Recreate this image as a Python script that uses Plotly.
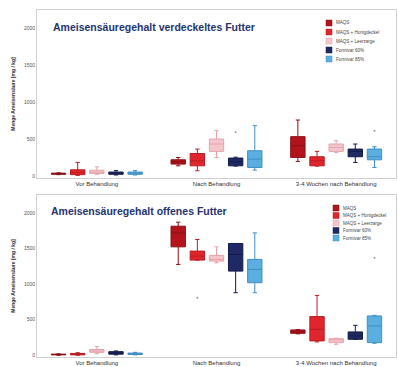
import plotly.graph_objects as go
from plotly.subplots import make_subplots

categories = ["Vor Behandlung", "Nach Behandlung", "3-4 Wochen nach Behandlung"]
series_names = ["MAQS", "MAQS + Honigdeckel", "MAQS + Leerzarge", "Formivar 60%", "Formivar 85%"]
colors = ["#b3141c", "#e0262c", "#f3c6cc", "#1e2a66", "#5aaee0"]
line_colors = ["#8a0f15", "#b81c22", "#e6a3ad", "#141c47", "#3f8fc4"]

# Top panel: verdeckeltes Futter  [Vor, Nach, 3-4 Wochen]
top_q1 = [[30, 167, 257], [25, 144, 144], [40, 338, 338], [30, 144, 266], [30, 122, 225]]
top_med = [[40, 198, 414], [55, 211, 212], [60, 437, 392], [45, 198, 338], [45, 234, 266]]
top_q3 = [[45, 225, 536], [90, 310, 266], [85, 504, 437], [60, 248, 369], [60, 347, 369]]
top_lo = [[25, 144, 203], [15, 77, 140], [30, 256, 324], [20, 140, 189], [20, 86, 122]]
top_hi = [[50, 256, 760], [190, 369, 338], [130, 617, 482], [80, 260, 437], [80, 684, 400]]
top_out_x = [[], [], [], ["Nach Behandlung"], ["3-4 Wochen nach Behandlung"]]
top_out_y = [[], [], [], [594], [617]]

# Bottom panel: offenes Futter
bot_q1 = [[5, 1522, 308], [5, 1336, 201], [40, 1322, 177], [15, 1181, 224], [10, 1018, 177]]
bot_med = [[10, 1718, 327], [15, 1392, 364], [60, 1345, 215], [30, 1415, 271], [20, 1205, 411]]
bot_q3 = [[15, 1812, 355], [25, 1462, 542], [80, 1401, 233], [50, 1569, 327], [30, 1345, 551]]
bot_lo = [[0, 1275, 300], [0, 1336, 187], [20, 1298, 154], [5, 878, 224], [5, 878, 168]]
bot_hi = [[20, 1868, 360], [35, 1625, 840], [120, 1522, 240], [60, 1569, 420], [40, 1718, 560]]
bot_out_x = [[], ["Nach Behandlung"], [], [], ["3-4 Wochen nach Behandlung"]]
bot_out_y = [[], [808], [], [], [1368]]

y_ticks = [0, 500, 1000, 1500, 2000]
title_top = "Ameisensäuregehalt verdeckeltes Futter"
title_bot = "Ameisensäuregehalt offenes Futter"
y_title = "Menge Ameisensäure [mg / kg]"

W, H = 398, 367
ML, MR, MT, MB = 37, 2, 10, 10
PW, PH = W - ML - MR, H - MT - MB

def px_x(px):
    return (px - ML) / PW

def px_y(py):
    return 1 - (py - MT) / PH

fig = make_subplots(rows=2, cols=1)

def add_panel(row, q1, med, q3, lo, hi, ox, oy):
    for i, name in enumerate(series_names):
        fig.add_trace(go.Box(
            x=categories, q1=q1[i], median=med[i], q3=q3[i],
            lowerfence=lo[i], upperfence=hi[i], name=name,
            fillcolor=colors[i], line=dict(color=line_colors[i], width=1),
            whiskerwidth=0.3, offsetgroup=str(i), showlegend=False,
            boxpoints=False,
        ), row=row, col=1)
        fig.add_trace(go.Scatter(
            x=ox[i], y=oy[i], mode="markers", offsetgroup=str(i),
            marker=dict(color="#999999", size=2), showlegend=False,
        ), row=row, col=1)

add_panel(1, top_q1, top_med, top_q3, top_lo, top_hi, top_out_x, top_out_y)
add_panel(2, bot_q1, bot_med, bot_q3, bot_lo, bot_hi, bot_out_x, bot_out_y)

axis_common = dict(showline=True, linecolor="#d0d0d0", linewidth=1, mirror=True,
                   showgrid=False, zeroline=False, ticks="", automargin=False,
                   tickfont=dict(size=5, color="#555555", family="Arial"))
fig.update_xaxes(**axis_common)
fig.update_xaxes(tickfont=dict(size=6, color="#333333", family="Arial"))
fig.update_yaxes(**axis_common)
fig.update_yaxes(tickvals=y_ticks, ticktext=[str(v) for v in y_ticks],
                 title=dict(text="<b>" + y_title + "</b>", font=dict(size=5, color="#333333", family="Arial"), standoff=8))
fig.update_yaxes(range=[-20, 2240], row=1, col=1)
fig.update_yaxes(range=[-25, 2250], row=2, col=1)

fig.update_layout(
    width=W, height=H,
    margin=dict(l=ML, r=MR, t=MT, b=MB),
    paper_bgcolor="white", plot_bgcolor="white",
    boxmode="group", boxgap=0.2, boxgroupgap=0.25,
    scattermode="group", scattergap=0.2,
    font=dict(family="Arial"),
    showlegend=False,
)
fig.update_layout(yaxis=dict(domain=[px_y(178), 1.0]), yaxis2=dict(domain=[0.0, px_y(195)]))

fig.add_annotation(text="<b>" + title_top + "</b>", xref="paper", yref="paper",
                   x=px_x(51), y=px_y(27), xanchor="left", yanchor="middle", showarrow=False,
                   font=dict(size=10.5, color="#25346e", family="Arial"))
fig.add_annotation(text="<b>" + title_bot + "</b>", xref="paper", yref="paper",
                   x=px_x(49), y=px_y(211), xanchor="left", yanchor="middle", showarrow=False,
                   font=dict(size=10.5, color="#25346e", family="Arial"))

# custom compact legends (layout only)
def add_legend(x0, y0, step):
    for i, name in enumerate(series_names):
        yc = y0 + i * step
        fig.add_shape(type="rect", xref="paper", yref="paper",
                      x0=px_x(x0), x1=px_x(x0 + 6), y0=px_y(yc - 3), y1=px_y(yc + 3),
                      fillcolor=colors[i], line=dict(color=line_colors[i], width=0.5))
        fig.add_annotation(text=name, xref="paper", yref="paper",
                           x=px_x(x0 + 8), y=px_y(yc), xanchor="left", yanchor="middle",
                           showarrow=False, font=dict(size=4.5, color="#444444", family="Arial"))

add_legend(326, 23, 9)
add_legend(333, 208, 7.5)

fig.write_html("out.html", config={"displayModeBar": False},
               post_script="document.body.style.margin='0';document.body.style.padding='0';")
